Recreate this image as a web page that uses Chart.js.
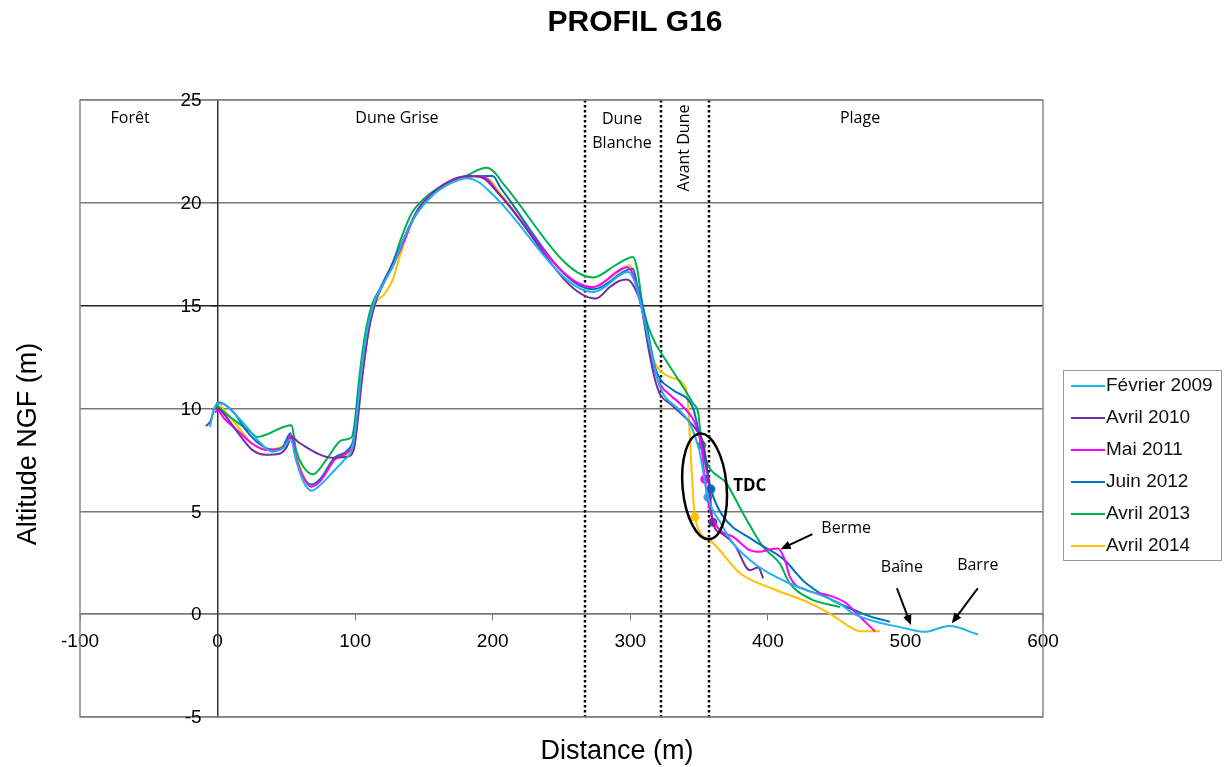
<!DOCTYPE html>
<html>
<head>
<meta charset="utf-8">
<title>PROFIL G16</title>
<script src="https://cdn.jsdelivr.net/npm/chart.js@4.4.1/dist/chart.umd.min.js"></script>
<style>
  html, body { margin: 0; padding: 0; background: #fff; }
  #wrap { width: 1224px; height: 767px; }
</style>
</head>
<body>
<div id="wrap"><canvas id="profilChart" width="1224" height="767"></canvas></div>
<script>
// Profile data: [distance (m), altitude NGF (m)] per survey
const fev2009 = [[-5.5, 9.1], [-3, 9.9], [0.5, 10.25], [5, 10.2], [10, 9.9], [20, 9.2], [30, 8.4], [40, 7.9], [48, 8.1], [53, 8.5], [57, 7.5], [62, 6.5], [68.4, 6.0], [75, 6.3], [85, 7.0], [92, 7.5], [98, 8.1], [101, 9.5], [104, 11.5], [108, 13.5], [113, 15.0], [120, 16.0], [128, 17.0], [135, 18.2], [145, 19.5], [155, 20.3], [165, 20.8], [181, 21.2], [190, 21.0], [200, 20.4], [273.5, 15.67], [298.5, 16.64], [303, 16.2], [308, 15.0], [313, 13.4], [318, 11.9], [322, 10.97], [336, 9.9], [343.3, 9.27], [350, 8.0], [356.4, 5.69], [366, 4.4], [374.8, 3.44], [391.8, 2.38], [416, 1.49], [452, 0.52], [462, 0.03], [500.8, -0.7], [514, -0.86], [527.4, -0.62], [532, -0.58], [552.8, -0.99]];
const avr2010 = [[-8.4, 9.14], [-5, 9.4], [-2, 10.0], [0, 10.0], [5, 9.7], [15, 8.8], [25, 8.0], [35, 7.75], [45, 7.8], [50, 8.1], [53.8, 8.6], [60, 8.3], [84, 7.6], [94, 7.65], [99, 8.0], [102, 9.5], [105, 11.5], [109, 13.5], [114, 15.0], [120, 16.0], [128, 17.1], [135, 18.2], [145, 19.6], [155, 20.4], [170, 21.1], [183, 21.3], [193, 21.2], [205, 20.4], [275, 15.35], [285, 15.9], [292, 16.2], [297.3, 16.27], [303, 15.9], [308, 15.0], [313, 13.0], [318, 11.4], [322, 10.65], [328.8, 10.24], [341, 9.5], [348.2, 8.95], [353, 8.3], [357, 6.5], [360, 4.47], [367, 3.9], [376, 3.35], [386.9, 2.14], [393, 2.27], [396.6, 1.74]];
const mai2011 = [[-2, 9.8], [0, 9.9], [5, 9.5], [15, 8.9], [25, 8.3], [35, 8.0], [45, 8.0], [50, 8.3], [53.5, 8.7], [57, 7.6], [62, 6.7], [68, 6.2], [75, 6.5], [85, 7.5], [95, 7.9], [100, 8.5], [103, 10.5], [107, 12.5], [112, 14.7], [120, 16.0], [128, 17.0], [136, 18.2], [145, 19.6], [155, 20.4], [170, 21.0], [186, 21.3], [195, 21.2], [205, 20.4], [272.6, 15.9], [298, 16.87], [302, 16.5], [308, 15.0], [313, 13.2], [318, 11.8], [322, 11.13], [330, 10.6], [338.4, 10.08], [348.2, 9.1], [352, 8.0], [354.2, 6.56], [358, 5.0], [365, 4.1], [374.8, 3.76], [386.9, 3.11], [394.2, 3.03], [401, 3.15], [407.5, 3.19], [412.4, 2.63], [416, 1.81], [428, 1.17], [445, 0.9], [457.2, 0.52], [464.5, 0.03], [477.8, -0.83]];
const juin2012 = [[-1, 10.1], [0, 10.3], [5, 10.2], [12, 9.8], [20, 9.0], [30, 8.3], [40, 8.0], [47, 8.1], [53, 8.8], [57, 7.6], [62, 6.7], [68, 6.3], [75, 6.6], [85, 7.6], [95, 8.0], [99, 8.6], [102, 10.5], [106, 12.5], [111, 14.5], [118, 15.8], [126, 16.9], [133, 17.9], [143, 19.3], [155, 20.3], [170, 21.0], [185, 21.3], [200, 21.3], [206, 20.7], [273, 15.8], [302, 16.8], [305, 16.0], [309, 15.0], [314, 13.3], [318, 12.0], [322, 11.4], [331, 10.9], [345.7, 10.0], [348.2, 9.35], [352, 8.2], [358.6, 6.08], [366, 4.9], [389.3, 3.6], [411, 2.7], [428, 1.49], [471.7, -0.05], [488.7, -0.37]];
const avr2013 = [[-1, 10.0], [0, 10.1], [5, 9.8], [15, 9.3], [25, 8.8], [28.4, 8.62], [53.8, 9.19], [57, 8.0], [62, 7.2], [69.3, 6.8], [80, 7.6], [90.2, 8.46], [97.5, 8.6], [100, 9.5], [103, 11.5], [107, 13.5], [112, 15.0], [120.4, 16.07], [127, 17.0], [133.8, 18.34], [141, 19.48], [150, 20.2], [165, 20.9], [180, 21.3], [195.6, 21.7], [201, 21.5], [208, 20.9], [273, 16.37], [290, 17.0], [302, 17.37], [305, 16.8], [309, 15.0], [313, 14.0], [318, 13.2], [322.7, 12.67], [335, 11.4], [345.7, 10.24], [349.4, 9.76], [352, 8.22], [370, 6.35], [382, 4.9], [396.6, 3.27], [408.7, 2.46], [416, 1.49], [430.5, 0.76], [452.3, 0.35]];
const avr2014 = [[-1, 10.1], [0, 10.3], [5, 9.9], [15, 9.1], [25, 8.3], [35, 8.0], [45, 8.1], [50, 8.3], [53.5, 8.7], [57, 7.8], [62, 6.8], [68, 6.2], [75, 6.6], [85, 7.6], [95, 7.8], [100, 8.5], [104, 10.8], [108, 13.0], [113, 14.8], [121.7, 15.6], [127, 16.2], [132, 17.3], [140, 18.9], [148, 19.8], [160, 20.6], [175, 21.1], [190.7, 21.3], [198, 21.1], [205, 20.5], [272.6, 15.9], [290, 16.6], [299.7, 16.96], [303, 16.4], [308, 15.0], [313, 13.2], [318, 12.2], [321.5, 11.86], [330, 11.5], [338.4, 11.2], [342, 10.24], [343.3, 8.6], [345, 6.5], [346.9, 4.72], [357.8, 3.6], [380, 1.98], [405, 1.2], [430, 0.55], [445, 0.03], [459.6, -0.62], [466.9, -0.83], [481.5, -0.83]];

const seriesLabels = ['Février 2009', 'Avril 2010', 'Mai 2011', 'Juin 2012', 'Avril 2013', 'Avril 2014'];
const seriesData = [fev2009, avr2010, mai2011, juin2012, avr2013, avr2014];
const seriesColors = ['#1fb3ea', '#7030a0', '#ff00ff', '#0070c0', '#00b050', '#ffc000'];

// TDC points (same order as the series)
const tdcDist = [356.4, 360.0, 354.2, 358.6, 352.0, 346.9];
const tdcAlt = [5.69, 4.47, 6.56, 6.08, 8.22, 4.72];

// Zones
const zoneBounds = [267, 322, 357];
const zoneNames = ['Forêt', 'Dune Grise', 'Dune Blanche', 'Avant Dune', 'Plage'];
const zoneCenters = [-63.6, 130.4, 294, 339, 467];

const xTicks = [-100, 0, 100, 200, 300, 400, 500, 600];
const yTicks = [-5, 0, 5, 10, 15, 20, 25];

document.addEventListener('DOMContentLoaded', function() {
    const ctx = document.getElementById('profilChart');

    const datasets = seriesData.map(function(points, i) {
        return {
            label: seriesLabels[i],
            data: points.map(p => ({ x: p[0], y: p[1] })),
            showLine: true,
            borderColor: seriesColors[i],
            backgroundColor: seriesColors[i],
            borderWidth: 2,
            pointRadius: 0,
            cubicInterpolationMode: 'monotone'
        };
    });

    datasets.push({
        label: 'TDC',
        data: tdcDist.map((d, i) => ({ x: d, y: tdcAlt[i] })),
        showLine: false,
        pointRadius: 4.5,
        pointBackgroundColor: seriesColors,
        pointBorderColor: seriesColors,
        pointBorderWidth: 0
    });

    function arrow(c, x1, y1, x2, y2) {
        const ang = Math.atan2(y2 - y1, x2 - x1);
        const head = 11;
        c.beginPath();
        c.moveTo(x1, y1);
        c.lineTo(x2 - Math.cos(ang) * head * 0.8, y2 - Math.sin(ang) * head * 0.8);
        c.stroke();
        c.beginPath();
        c.moveTo(x2, y2);
        c.lineTo(x2 - head * Math.cos(ang - 0.4), y2 - head * Math.sin(ang - 0.4));
        c.lineTo(x2 - head * Math.cos(ang + 0.4), y2 - head * Math.sin(ang + 0.4));
        c.closePath();
        c.fill();
    }

    // Zone lines drawn behind the curves
    const zonePlugin = {
        id: 'zones',
        beforeDatasetsDraw(chart) {
            const c = chart.ctx;
            const area = chart.chartArea;
            const xs = chart.scales.x;
            c.save();
            c.strokeStyle = '#000';
            c.lineWidth = 2.5;
            c.setLineDash([2.5, 2.5]);
            zoneBounds.forEach(function(b) {
                const px = Math.round(xs.getPixelForValue(b));
                c.beginPath();
                c.moveTo(px, area.top);
                c.lineTo(px, area.bottom);
                c.stroke();
            });
            c.restore();
        }
    };

    // Frame, labels, annotations, titles and legend
    const decoPlugin = {
        id: 'deco',
        afterDraw(chart) {
            const c = chart.ctx;
            const area = chart.chartArea;
            const xs = chart.scales.x;
            const ys = chart.scales.y;
            c.save();

            // frame
            c.strokeStyle = '#888';
            c.lineWidth = 1.5;
            c.strokeRect(area.left, area.top, area.right - area.left, area.bottom - area.top);

            // y tick labels, next to the axis at x = 0
            c.fillStyle = '#000';
            c.font = '19px "Liberation Sans", Arial, sans-serif';
            c.textAlign = 'right';
            c.textBaseline = 'middle';
            const axisX = xs.getPixelForValue(0);
            yTicks.forEach(function(v) {
                c.fillText(String(v), axisX - 16, ys.getPixelForValue(v) + 1);
            });

            // zone labels
            c.font = '16px "Open Sans", "Noto Sans", sans-serif';
            c.textAlign = 'center';
            zoneNames.forEach(function(name, i) {
                const px = xs.getPixelForValue(zoneCenters[i]);
                if (name === 'Dune Blanche') {
                    c.fillText('Dune', px, area.top + 19);
                    c.fillText('Blanche', px, area.top + 43);
                } else if (name === 'Avant Dune') {
                    c.save();
                    c.translate(px, area.top + 48);
                    c.rotate(-Math.PI / 2);
                    c.fillText(name, 0, 0);
                    c.restore();
                } else {
                    c.fillText(name, px, area.top + 18);
                }
            });

            // TDC ellipse
            c.strokeStyle = '#000';
            c.lineWidth = 2.5;
            c.beginPath();
            c.ellipse(xs.getPixelForValue(354), ys.getPixelForValue(6.21), 22, 53, -0.09, 0, Math.PI * 2);
            c.stroke();

            c.font = 'bold 17px "Open Sans", "Noto Sans", sans-serif';
            c.textAlign = 'left';
            c.fillText('TDC', xs.getPixelForValue(374.8), ys.getPixelForValue(6.2));

            // Berme / Baïne / Barre
            c.font = '16px "Open Sans", "Noto Sans", sans-serif';
            c.fillText('Berme', xs.getPixelForValue(438.9), ys.getPixelForValue(4.18));
            c.textAlign = 'center';
            c.fillText('Baîne', xs.getPixelForValue(497.4), ys.getPixelForValue(2.28));
            c.fillText('Barre', xs.getPixelForValue(552.6), ys.getPixelForValue(2.38));

            c.lineWidth = 2;
            c.fillStyle = '#000';
            arrow(c, xs.getPixelForValue(432.4), ys.getPixelForValue(3.89), xs.getPixelForValue(409.2), ys.getPixelForValue(3.16));
            arrow(c, xs.getPixelForValue(493.8), ys.getPixelForValue(1.26), xs.getPixelForValue(504), ys.getPixelForValue(-0.53));
            arrow(c, xs.getPixelForValue(552.6), ys.getPixelForValue(1.26), xs.getPixelForValue(533.7), ys.getPixelForValue(-0.44));

            // title
            c.font = 'bold 30px "Liberation Sans", Arial, sans-serif';
            c.textAlign = 'center';
            c.fillText('PROFIL G16', 635, 23);

            // axis titles
            c.font = '27px "Liberation Sans", Arial, sans-serif';
            c.fillText('Distance (m)', 617, 752);
            c.save();
            c.translate(29, 444);
            c.rotate(-Math.PI / 2);
            c.fillText('Altitude NGF (m)', 0, 0);
            c.restore();

            // legend
            c.strokeStyle = '#999';
            c.lineWidth = 1;
            c.strokeRect(1063.5, 370.5, 158, 190);
            c.font = '19px "Liberation Sans", Arial, sans-serif';
            c.textAlign = 'left';
            seriesLabels.forEach(function(lbl, i) {
                const y = 386 + i * 32;
                c.strokeStyle = seriesColors[i];
                c.lineWidth = 2;
                c.beginPath();
                c.moveTo(1071, y);
                c.lineTo(1105, y);
                c.stroke();
                c.fillStyle = '#111';
                c.fillText(lbl, 1106, y);
            });

            c.restore();
        }
    };

    new Chart(ctx, {
        type: 'scatter',
        data: { datasets: datasets },
        options: {
            responsive: false,
            animation: false,
            devicePixelRatio: 1,
            layout: { padding: { left: 80, right: 181, top: 100, bottom: 50 } },
            plugins: {
                legend: { display: false },
                tooltip: { enabled: false }
            },
            scales: {
                x: {
                    type: 'linear',
                    min: -100,
                    max: 600,
                    position: { y: 0 },
                    afterBuildTicks: function(axis) {
                        axis.ticks = xTicks.map(v => ({ value: v }));
                    },
                    ticks: {
                        color: '#000',
                        padding: 10,
                        font: { size: 19, family: '"Liberation Sans", Arial, sans-serif' }
                    },
                    grid: { display: true, drawOnChartArea: false, tickLength: 6, color: '#777' },
                    border: { display: true, color: '#777', width: 1.5 }
                },
                y: {
                    type: 'linear',
                    min: -5,
                    max: 25,
                    position: { x: 0 },
                    afterBuildTicks: function(axis) {
                        axis.ticks = yTicks.map(v => ({ value: v }));
                    },
                    ticks: { display: false },
                    grid: {
                        color: function(c) { return (c.tick && c.tick.value === 15) ? '#222' : '#777'; },
                        lineWidth: 1.5,
                        tickLength: 6
                    },
                    border: { display: true, color: '#333', width: 1.5 }
                }
            }
        },
        plugins: [zonePlugin, decoPlugin]
    });
});
</script>
</body>
</html>
